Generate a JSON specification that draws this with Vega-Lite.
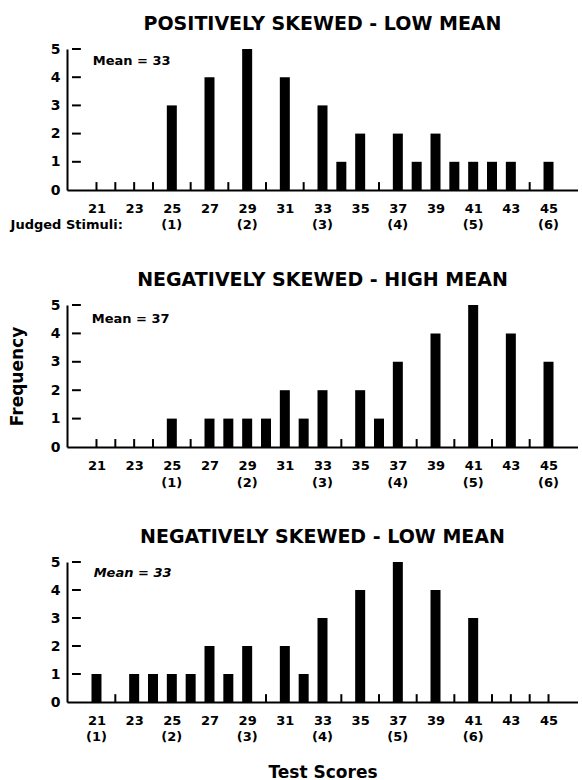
{
  "$schema": "https://vega.github.io/schema/vega-lite/v6.json",
  "padding": {"left": 8, "top": 15, "right": 0, "bottom": 0},
  "background": "white",
  "spacing": 38,
  "datasets": {
    "hist": [
      {"p": 1, "score": 21, "n": 0, "stim": ""},
      {"p": 1, "score": 22, "n": 0, "stim": ""},
      {"p": 1, "score": 23, "n": 0, "stim": ""},
      {"p": 1, "score": 24, "n": 0, "stim": ""},
      {"p": 1, "score": 25, "n": 3, "stim": "(1)"},
      {"p": 1, "score": 26, "n": 0, "stim": ""},
      {"p": 1, "score": 27, "n": 4, "stim": ""},
      {"p": 1, "score": 28, "n": 0, "stim": ""},
      {"p": 1, "score": 29, "n": 5, "stim": "(2)"},
      {"p": 1, "score": 30, "n": 0, "stim": ""},
      {"p": 1, "score": 31, "n": 4, "stim": ""},
      {"p": 1, "score": 32, "n": 0, "stim": ""},
      {"p": 1, "score": 33, "n": 3, "stim": "(3)"},
      {"p": 1, "score": 34, "n": 1, "stim": ""},
      {"p": 1, "score": 35, "n": 2, "stim": ""},
      {"p": 1, "score": 36, "n": 0, "stim": ""},
      {"p": 1, "score": 37, "n": 2, "stim": "(4)"},
      {"p": 1, "score": 38, "n": 1, "stim": ""},
      {"p": 1, "score": 39, "n": 2, "stim": ""},
      {"p": 1, "score": 40, "n": 1, "stim": ""},
      {"p": 1, "score": 41, "n": 1, "stim": "(5)"},
      {"p": 1, "score": 42, "n": 1, "stim": ""},
      {"p": 1, "score": 43, "n": 1, "stim": ""},
      {"p": 1, "score": 44, "n": 0, "stim": ""},
      {"p": 1, "score": 45, "n": 1, "stim": "(6)"},
      {"p": 2, "score": 21, "n": 0, "stim": ""},
      {"p": 2, "score": 22, "n": 0, "stim": ""},
      {"p": 2, "score": 23, "n": 0, "stim": ""},
      {"p": 2, "score": 24, "n": 0, "stim": ""},
      {"p": 2, "score": 25, "n": 1, "stim": "(1)"},
      {"p": 2, "score": 26, "n": 0, "stim": ""},
      {"p": 2, "score": 27, "n": 1, "stim": ""},
      {"p": 2, "score": 28, "n": 1, "stim": ""},
      {"p": 2, "score": 29, "n": 1, "stim": "(2)"},
      {"p": 2, "score": 30, "n": 1, "stim": ""},
      {"p": 2, "score": 31, "n": 2, "stim": ""},
      {"p": 2, "score": 32, "n": 1, "stim": ""},
      {"p": 2, "score": 33, "n": 2, "stim": "(3)"},
      {"p": 2, "score": 34, "n": 0, "stim": ""},
      {"p": 2, "score": 35, "n": 2, "stim": ""},
      {"p": 2, "score": 36, "n": 1, "stim": ""},
      {"p": 2, "score": 37, "n": 3, "stim": "(4)"},
      {"p": 2, "score": 38, "n": 0, "stim": ""},
      {"p": 2, "score": 39, "n": 4, "stim": ""},
      {"p": 2, "score": 40, "n": 0, "stim": ""},
      {"p": 2, "score": 41, "n": 5, "stim": "(5)"},
      {"p": 2, "score": 42, "n": 0, "stim": ""},
      {"p": 2, "score": 43, "n": 4, "stim": ""},
      {"p": 2, "score": 44, "n": 0, "stim": ""},
      {"p": 2, "score": 45, "n": 3, "stim": "(6)"},
      {"p": 3, "score": 21, "n": 1, "stim": "(1)"},
      {"p": 3, "score": 22, "n": 0, "stim": ""},
      {"p": 3, "score": 23, "n": 1, "stim": ""},
      {"p": 3, "score": 24, "n": 1, "stim": ""},
      {"p": 3, "score": 25, "n": 1, "stim": "(2)"},
      {"p": 3, "score": 26, "n": 1, "stim": ""},
      {"p": 3, "score": 27, "n": 2, "stim": ""},
      {"p": 3, "score": 28, "n": 1, "stim": ""},
      {"p": 3, "score": 29, "n": 2, "stim": "(3)"},
      {"p": 3, "score": 30, "n": 0, "stim": ""},
      {"p": 3, "score": 31, "n": 2, "stim": ""},
      {"p": 3, "score": 32, "n": 1, "stim": ""},
      {"p": 3, "score": 33, "n": 3, "stim": "(4)"},
      {"p": 3, "score": 34, "n": 0, "stim": ""},
      {"p": 3, "score": 35, "n": 4, "stim": ""},
      {"p": 3, "score": 36, "n": 0, "stim": ""},
      {"p": 3, "score": 37, "n": 5, "stim": "(5)"},
      {"p": 3, "score": 38, "n": 0, "stim": ""},
      {"p": 3, "score": 39, "n": 4, "stim": ""},
      {"p": 3, "score": 40, "n": 0, "stim": ""},
      {"p": 3, "score": 41, "n": 3, "stim": "(6)"},
      {"p": 3, "score": 42, "n": 0, "stim": ""},
      {"p": 3, "score": 43, "n": 0, "stim": ""},
      {"p": 3, "score": 44, "n": 0, "stim": ""},
      {"p": 3, "score": 45, "n": 0, "stim": ""}
    ],
    "notes": [
      {"p": 1, "label": "Mean = 33"},
      {"p": 2, "label": "Mean = 37"},
      {"p": 3, "label": "Mean = 33"}
    ],
    "yticks": [{"t": 1}, {"t": 2}, {"t": 3}, {"t": 4}, {"t": 5}]
  },
  "vconcat": [
    {
      "width": 511,
      "height": 141,
      "title": {"text": "POSITIVELY SKEWED - LOW MEAN"},
      "layer": [
        {
          "data": {"name": "hist"},
          "transform": [{"filter": "datum.p == 1 && datum.n > 0"}],
          "mark": {"type": "bar", "width": 10, "color": "#000"},
          "encoding": {
            "x": {"field": "score", "type": "quantitative", "scale": {"domain": [19.7, 46.3], "nice": false, "zero": false}, "axis": {"values": [21, 23, 25, 27, 29, 31, 33, 35, 37, 39, 41, 43, 45], "title": null}},
            "y": {"field": "n", "type": "quantitative", "scale": {"domain": [0, 5], "nice": false}, "axis": {"values": [0, 1, 2, 3, 4, 5], "tickCount": 6, "title": null}}
          }
        },
        {
          "data": {"name": "hist"},
          "transform": [{"filter": "datum.p == 1 && datum.n == 0"}],
          "mark": {"type": "rule", "strokeWidth": 2, "color": "#000"},
          "encoding": {
            "x": {"field": "score", "type": "quantitative"},
            "y": {"datum": 0},
            "y2": {"datum": 0.28}
          }
        },
        {
          "data": {"name": "yticks"},
          "mark": {"type": "rule", "strokeWidth": 2, "color": "#000"},
          "encoding": {
            "x": {"datum": 19.7},
            "x2": {"datum": 20.17},
            "y": {"field": "t", "type": "quantitative"}
          }
        },
        {
          "data": {"name": "hist"},
          "transform": [{"filter": "datum.p == 1 && datum.stim != ''"}],
          "mark": {"type": "text", "font": "DejaVu Sans", "fontWeight": "bold", "fontSize": 13, "color": "#000", "baseline": "middle"},
          "encoding": {
            "x": {"field": "score", "type": "quantitative"},
            "y": {"datum": -1.25},
            "text": {"field": "stim"}
          }
        },
        {
          "data": {"name": "notes"},
          "transform": [{"filter": "datum.p == 1"}],
          "mark": {"type": "text", "font": "DejaVu Sans", "fontWeight": "bold", "fontSize": 13, "color": "#000", "align": "left", "baseline": "middle"},
          "encoding": {
            "x": {"datum": 20.8},
            "y": {"datum": 4.57},
            "text": {"field": "label"}
          }
        },
        {
          "data": {"name": "notes"},
          "transform": [{"filter": "datum.p == 1"}],
          "mark": {"type": "text", "text": "Judged Stimuli:", "font": "DejaVu Sans", "fontWeight": "bold", "fontSize": 13, "color": "#000", "align": "right", "baseline": "middle"},
          "encoding": {
            "x": {"datum": 22.4},
            "y": {"datum": -1.25}
          }
        }
      ]
    },
    {
      "width": 511,
      "height": 142,
      "title": {"text": "NEGATIVELY SKEWED - HIGH MEAN"},
      "layer": [
        {
          "data": {"name": "hist"},
          "transform": [{"filter": "datum.p == 2 && datum.n > 0"}],
          "mark": {"type": "bar", "width": 10, "color": "#000"},
          "encoding": {
            "x": {"field": "score", "type": "quantitative", "scale": {"domain": [19.7, 46.3], "nice": false, "zero": false}, "axis": {"values": [21, 23, 25, 27, 29, 31, 33, 35, 37, 39, 41, 43, 45], "title": null}},
            "y": {"field": "n", "type": "quantitative", "scale": {"domain": [0, 5], "nice": false}, "axis": {"values": [0, 1, 2, 3, 4, 5], "tickCount": 6, "title": "Frequency"}}
          }
        },
        {
          "data": {"name": "hist"},
          "transform": [{"filter": "datum.p == 2 && datum.n == 0"}],
          "mark": {"type": "rule", "strokeWidth": 2, "color": "#000"},
          "encoding": {
            "x": {"field": "score", "type": "quantitative"},
            "y": {"datum": 0},
            "y2": {"datum": 0.28}
          }
        },
        {
          "data": {"name": "yticks"},
          "mark": {"type": "rule", "strokeWidth": 2, "color": "#000"},
          "encoding": {
            "x": {"datum": 19.7},
            "x2": {"datum": 20.17},
            "y": {"field": "t", "type": "quantitative"}
          }
        },
        {
          "data": {"name": "hist"},
          "transform": [{"filter": "datum.p == 2 && datum.stim != ''"}],
          "mark": {"type": "text", "font": "DejaVu Sans", "fontWeight": "bold", "fontSize": 13, "color": "#000", "baseline": "middle"},
          "encoding": {
            "x": {"field": "score", "type": "quantitative"},
            "y": {"datum": -1.25},
            "text": {"field": "stim"}
          }
        },
        {
          "data": {"name": "notes"},
          "transform": [{"filter": "datum.p == 2"}],
          "mark": {"type": "text", "font": "DejaVu Sans", "fontWeight": "bold", "fontSize": 13, "color": "#000", "align": "left", "baseline": "middle"},
          "encoding": {
            "x": {"datum": 20.75},
            "y": {"datum": 4.5},
            "text": {"field": "label"}
          }
        }
      ]
    },
    {
      "width": 511,
      "height": 140,
      "title": {"text": "NEGATIVELY SKEWED - LOW MEAN"},
      "layer": [
        {
          "data": {"name": "hist"},
          "transform": [{"filter": "datum.p == 3 && datum.n > 0"}],
          "mark": {"type": "bar", "width": 10, "color": "#000"},
          "encoding": {
            "x": {"field": "score", "type": "quantitative", "scale": {"domain": [19.7, 46.3], "nice": false, "zero": false}, "axis": {"values": [21, 23, 25, 27, 29, 31, 33, 35, 37, 39, 41, 43, 45], "title": "Test Scores"}},
            "y": {"field": "n", "type": "quantitative", "scale": {"domain": [0, 5], "nice": false}, "axis": {"values": [0, 1, 2, 3, 4, 5], "tickCount": 6, "title": null}}
          }
        },
        {
          "data": {"name": "hist"},
          "transform": [{"filter": "datum.p == 3 && datum.n == 0"}],
          "mark": {"type": "rule", "strokeWidth": 2, "color": "#000"},
          "encoding": {
            "x": {"field": "score", "type": "quantitative"},
            "y": {"datum": 0},
            "y2": {"datum": 0.28}
          }
        },
        {
          "data": {"name": "yticks"},
          "mark": {"type": "rule", "strokeWidth": 2, "color": "#000"},
          "encoding": {
            "x": {"datum": 19.7},
            "x2": {"datum": 20.17},
            "y": {"field": "t", "type": "quantitative"}
          }
        },
        {
          "data": {"name": "hist"},
          "transform": [{"filter": "datum.p == 3 && datum.stim != ''"}],
          "mark": {"type": "text", "font": "DejaVu Sans", "fontWeight": "bold", "fontSize": 13, "color": "#000", "baseline": "middle"},
          "encoding": {
            "x": {"field": "score", "type": "quantitative"},
            "y": {"datum": -1.25},
            "text": {"field": "stim"}
          }
        },
        {
          "data": {"name": "notes"},
          "transform": [{"filter": "datum.p == 3"}],
          "mark": {"type": "text", "font": "DejaVu Sans", "fontWeight": "bold", "fontStyle": "italic", "fontSize": 13, "color": "#000", "align": "left", "baseline": "middle"},
          "encoding": {
            "x": {"datum": 20.85},
            "y": {"datum": 4.6},
            "text": {"field": "label"}
          }
        }
      ]
    }
  ],
  "config": {
    "view": {"stroke": null},
    "title": {"font": "DejaVu Sans", "fontSize": 19, "fontWeight": "bold", "color": "#000", "anchor": "middle", "offset": 8},
    "axisX": {"ticks": false, "grid": false, "domainColor": "#000", "domainWidth": 2, "labelFont": "DejaVu Sans", "labelFontWeight": "bold", "labelFontSize": 13, "labelColor": "#000", "labelPadding": 12, "labelFlush": false, "labelOverlap": false, "titleFont": "DejaVu Sans", "titleFontSize": 17, "titleFontWeight": "bold", "titleColor": "#000", "titlePadding": 37},
    "axisY": {"ticks": false, "tickSize": 0, "grid": false, "domainColor": "#000", "domainWidth": 2, "labelFont": "DejaVu Sans", "labelFontWeight": "bold", "labelFontSize": 14, "labelColor": "#000", "labelPadding": 7, "labelFlush": false, "labelOverlap": false, "titleFont": "DejaVu Sans", "titleFontSize": 17, "titleFontWeight": "bold", "titleColor": "#000", "titlePadding": 24}
  }
}
